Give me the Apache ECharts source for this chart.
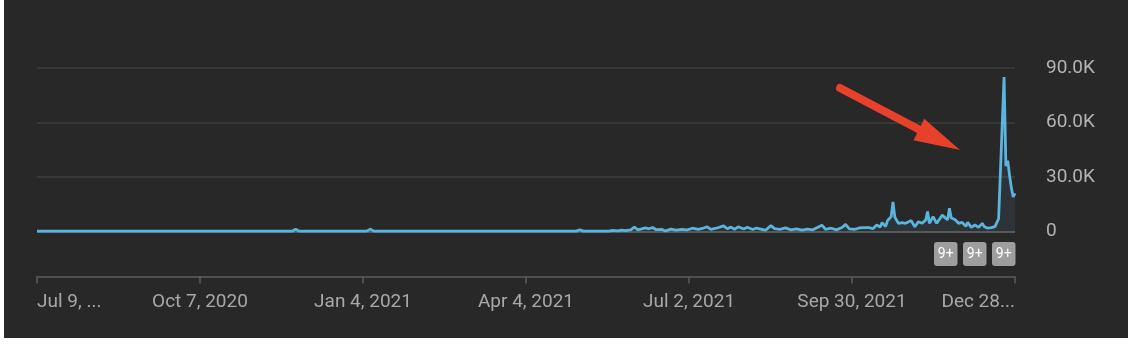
<!DOCTYPE html>
<html>
<head>
<meta charset="utf-8">
<script src="https://cdn.jsdelivr.net/npm/echarts@6/dist/echarts.min.js"></script>
<style>
  html, body { margin: 0; padding: 0; background: #ffffff; }
  #panel { position: absolute; left: 4px; top: 0; width: 1124px; height: 338px; background: #282828; }
  #chart { position: absolute; left: 0; top: 0; width: 1128px; height: 350px; }
</style>
</head>
<body>
<div id="panel"></div>
<div id="chart"></div>
<script>
// Day offsets from Jul 9, 2020 and daily views
const days = [0, 60, 140, 142, 144, 181, 183, 185, 296, 298, 300, 314, 316, 319, 321, 323, 326, 328, 330, 332, 334, 336, 338, 340, 343, 345, 348, 351, 354, 357, 360, 363, 366, 368, 370, 373, 377, 379, 381, 383, 385, 388, 390, 393, 395, 398, 400, 403, 405, 408, 411, 414, 417, 420, 423, 426, 431, 433, 436, 439, 442, 444, 446, 449, 451, 453, 457, 459, 461, 463, 464, 466, 467, 469, 470, 471, 473, 475, 477, 478, 480, 482, 484, 486, 488, 489, 490, 492, 494, 496, 497, 500, 501, 502, 504, 506, 508, 510, 511, 513, 515, 517, 519, 520, 522, 524, 526, 527, 528, 531, 532, 533, 534, 535, 536, 537];
const views = [200, 200, 200, 1200, 200, 200, 1300, 200, 200, 1000, 200, 250, 600, 300, 800, 500, 900, 2400, 900, 1400, 2000, 1500, 2200, 1000, 1200, 300, 1300, 800, 1200, 900, 1800, 1200, 1900, 2600, 1200, 1800, 3100, 1500, 2400, 1200, 2600, 1400, 2300, 1100, 1900, 1200, 700, 3200, 1600, 1200, 2000, 900, 1500, 800, 1300, 900, 3500, 1200, 1800, 900, 2200, 3900, 1400, 1200, 1800, 2100, 2100, 1500, 3600, 2500, 4900, 2800, 6000, 8200, 16300, 8000, 4500, 4900, 4500, 4900, 6000, 2600, 5400, 4500, 6400, 11000, 4500, 8200, 4500, 7400, 9000, 6400, 12800, 7400, 6600, 4500, 5000, 2800, 5000, 2300, 3600, 2300, 4500, 2800, 1800, 2100, 2700, 3000, 7000, 85000, 36000, 39000, 31000, 24000, 19000, 21000];
const xTickLabels = ['Jul 9, ...', 'Oct 7, 2020', 'Jan 4, 2021', 'Apr 4, 2021', 'Jul 2, 2021', 'Sep 30, 2021', 'Dec 28...'];
const yTickLabels = ['0', '30.0K', '60.0K', '90.0K'];
const badgeLabels = ['9+', '9+', '9+'];

const chart = echarts.init(document.getElementById('chart'), null, { renderer: 'canvas' });
const font = 'Roboto';
const xStep = 537 / 6;

// arrow geometry (annotation)
const tip = [960, 150], tail = [840, 88];
const ux = 0.894, uy = 0.447, px = -0.447, py = 0.894;
const headLen = 46, headHalf = 12;
const bx = tip[0] - headLen * ux, by = tip[1] - headLen * uy;

const graphics = [
  { type: 'line', shape: { x1: tail[0], y1: tail[1], x2: bx + 4 * ux, y2: by + 4 * uy },
    style: { stroke: '#e8412b', lineWidth: 8, lineCap: 'round' }, z: 100 },
  { type: 'polygon', shape: { points: [[tip[0], tip[1]], [bx + headHalf * px, by + headHalf * py], [bx - headHalf * px, by - headHalf * py]] },
    style: { fill: '#e8412b' }, z: 100 }
];
const badgeX = [934, 963, 992];
badgeLabels.forEach((t, i) => {
  graphics.push({ type: 'rect', x: badgeX[i], y: 242, shape: { width: 23.5, height: 24, r: 3 }, style: { fill: '#9e9e9e' }, z: 50 });
  graphics.push({ type: 'text', x: badgeX[i] + 11.75, y: 254, style: { text: t, fill: '#ffffff', font: '14px Roboto', align: 'center', verticalAlign: 'middle' }, z: 51 });
});

chart.setOption({
  backgroundColor: 'transparent',
  animation: false,
  grid: { left: 37, right: 113, top: 68, height: 163.5, containLabel: false },
  xAxis: [{
    type: 'value', min: 0, max: 537, interval: xStep, offset: 45,
    axisLine: { show: true, onZero: false, lineStyle: { color: '#5c5c5c', width: 1.5 } },
    axisTick: { show: true, length: 7, lineStyle: { color: '#5c5c5c', width: 1.5 } },
    splitLine: { show: false },
    axisLabel: {
      color: '#a8a8a8', fontFamily: font, fontSize: 19, margin: 16,
      alignMinLabel: 'left', alignMaxLabel: 'right',
      showMinLabel: true, showMaxLabel: true,
      formatter: v => xTickLabels[Math.round(v / xStep)] || ''
    }
  }],
  yAxis: {
    type: 'value', position: 'right', min: 0, max: 90000, interval: 30000,
    axisLine: { show: false }, axisTick: { show: false },
    splitLine: { show: true, lineStyle: { color: ['#6a6a6a', '#3e3e3e', '#3e3e3e', '#3e3e3e'], width: 1.5 } },
    axisLabel: {
      color: '#b3b3b3', fontFamily: font, fontSize: 19, margin: 31,
      formatter: v => yTickLabels[Math.round(v / 30000)] || ''
    }
  },
  series: [{
    type: 'line',
    data: days.map((d, i) => [d, views[i]]),
    symbol: 'none',
    smooth: false,
    lineStyle: { color: '#5ab4de', width: 2.8 },
    areaStyle: { color: 'rgba(100,170,220,0.12)' },
    z: 10
  }],
  graphic: graphics
});
</script>
</body>
</html>
